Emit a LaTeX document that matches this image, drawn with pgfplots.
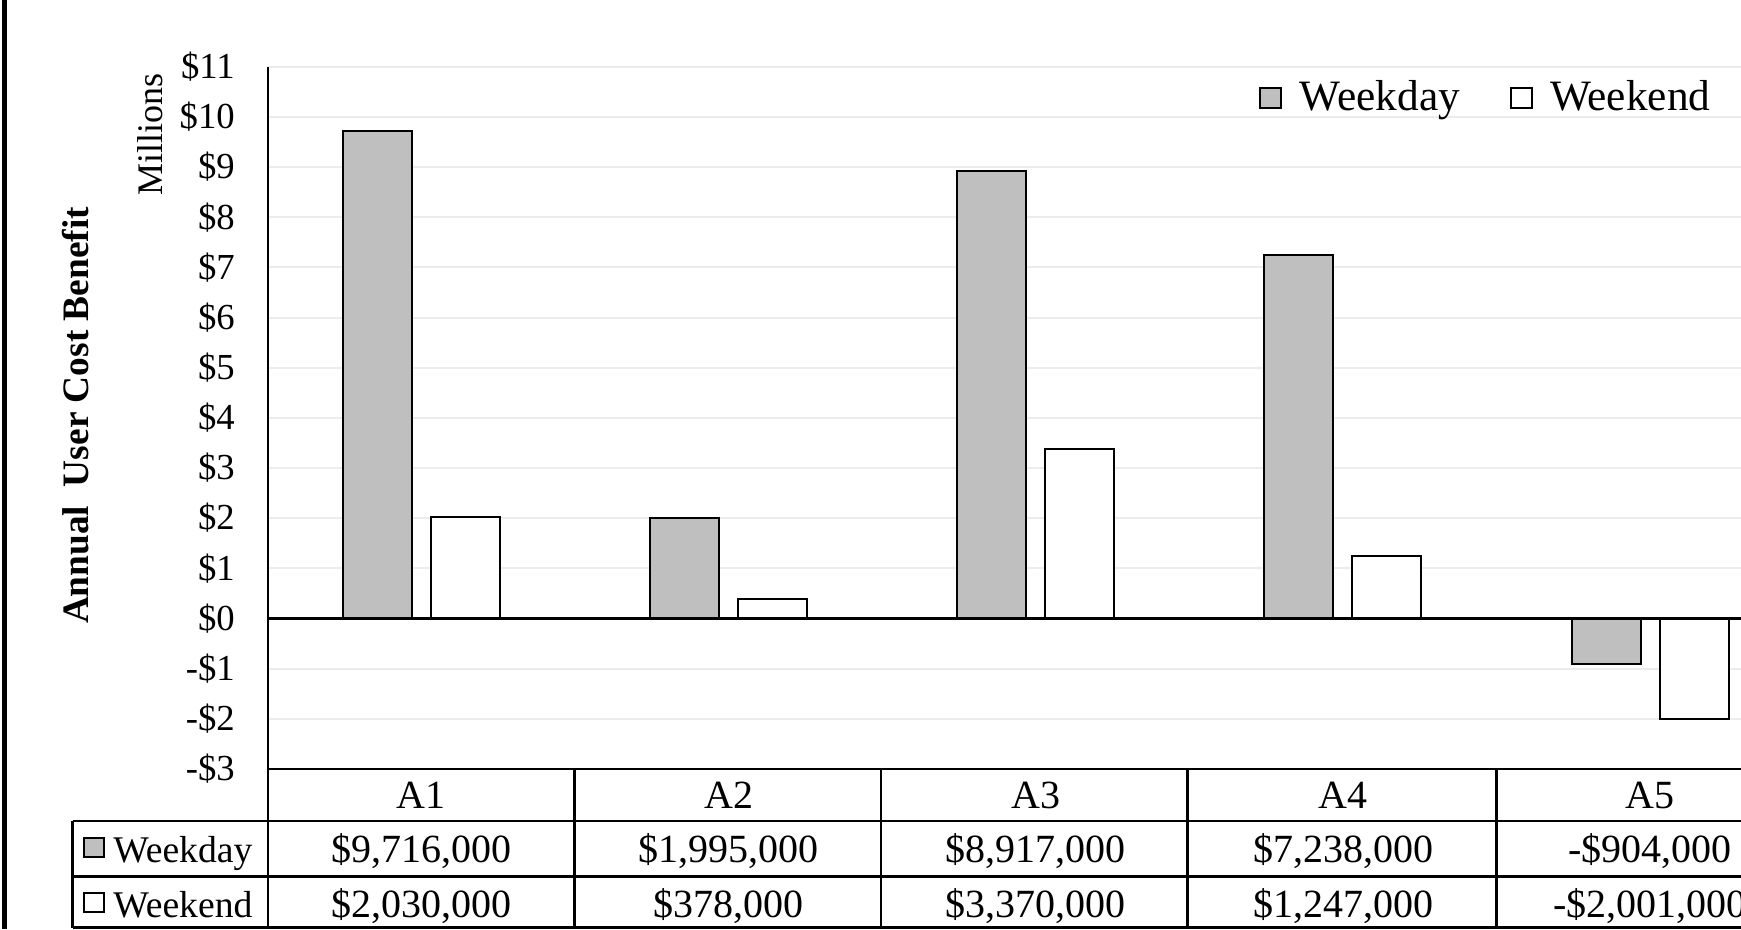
\documentclass[border=0pt]{standalone}
\usepackage{fontspec}
\setmainfont{Liberation Serif}
\usepackage{pgfplots}
\usepackage{pgfplotstable}
\pgfplotsset{compat=1.18}

\definecolor{bargray}{RGB}{191,191,191}
\definecolor{gridgray}{RGB}{236,236,236}

% annual user cost benefit, $ millions
\pgfplotstableread{
cat wkday wkend
0 9.716 2.030
1 1.995 0.378
2 8.917 3.370
3 7.238 1.247
4 -0.904 -2.001
}\benefit

\pgfplotsset{
  sqleg/.style={legend image code/.code={\draw[##1] (0pt,-3.1pt) rectangle (6.2pt,3.1pt);}},
}

\begin{document}
\begin{tikzpicture}[font=\fontsize{12}{14}\selectfont]
\begin{axis}[
  at={(80.34pt,-230.64pt)}, anchor=south west,
  scale only axis, width=460.8pt, height=210.6pt,
  xmin=-0.5, xmax=4.5, ymin=-3, ymax=11,
  ybar, bar width=20.7pt,
  axis x line*=bottom, axis y line*=left,
  axis line style={-, line width=0.75pt, black},
  xtick={0,...,4}, xticklabels={A1,A2,A3,A4,A5},
  xticklabel style={anchor=base, yshift=-11.9pt, font=\fontsize{12}{14}\selectfont},
  ytick={-3,...,11},
  yticklabels={-\$3,-\$2,-\$1,\$0,\$1,\$2,\$3,\$4,\$5,\$6,\$7,\$8,\$9,\$10,\$11},
  yticklabel style={font=\fontsize{11}{13}\selectfont, xshift=-6.4pt},
  major tick length=0pt,
  ymajorgrids, grid style={gridgray, line width=0.6pt},
  legend columns=2,
  legend style={at={(0.6452,0.9554)}, anchor=west, draw=none, fill=none,
    inner sep=0pt, font=\fontsize{13}{15}\selectfont,
    /tikz/every odd column/.append style={column sep=3.3pt},
    /tikz/every even column/.append style={column sep=13pt}},
  clip=false,
]
\addplot[fill=bargray, draw=black, line width=0.6pt, bar shift=-13.2pt, sqleg]
  table[x=cat, y=wkday] {\benefit};
\addplot[fill=white, draw=black, line width=0.6pt, bar shift=13.2pt, sqleg]
  table[x=cat, y=wkend] {\benefit};
\legend{Weekday, Weekend}
\draw[black, line width=0.75pt] (axis cs:-0.5,0) -- (axis cs:4.5,0);
\end{axis}

\begin{scope}[x=0.3pt, y=-0.3pt, line width=0.75pt]
  % outer frame line at the left
  \draw[line width=1.5pt] (4,0) -- (4,929);
  % data table grid
  \draw (72.5,821) -- (1803.8,821);
  \draw (72.5,876.5) -- (1803.8,876.5);
  \draw (72.5,927.5) -- (1803.8,927.5);
  \draw (72.5,821) -- (72.5,927.5);
  \foreach \x in {267.8,574.4,881,1187.7,1496.6}
    \draw (\x,768.8) -- (\x,927.5);
  % legend keys in the table
  \draw[line width=0.6pt, fill=bargray] (83.5,837.5) rectangle (103.5,857);
  \draw[line width=0.6pt, fill=white] (83.5,892.5) rectangle (103.5,912);
  \node[anchor=base west, inner sep=0pt, font=\fontsize{11.3}{13}\selectfont] at (112,862) {Weekday};
  \node[anchor=base west, inner sep=0pt, font=\fontsize{11.3}{13}\selectfont] at (112,917) {Weekend};
  \foreach \x/\t in {421.4/{\$9,716,000}, 728.6/{\$1,995,000}, 1035.8/{\$8,917,000},
                     1343/{\$7,238,000}, 1650.2/{-\$904,000}}
    \node[anchor=base, inner sep=0pt] at (\x,862) {\t};
  \foreach \x/\t in {421.4/{\$2,030,000}, 728.6/{\$378,000}, 1035.8/{\$3,370,000},
                     1343/{\$1,247,000}, 1650.2/{-\$2,001,000}}
    \node[anchor=base, inner sep=0pt] at (\x,917) {\t};
  % axis titles
  \node[rotate=90, font=\fontsize{10.8}{13}\selectfont] at (150,134.4) {Millions};
  \node[rotate=90, font=\bfseries\fontsize{11.2}{13}\selectfont] at (75.5,415.5)
    {Annual~~User Cost Benefit};
\end{scope}

\pgfresetboundingbox
\useasboundingbox (0,0) rectangle (522.3pt,-278.7pt);
\end{tikzpicture}
\end{document}
